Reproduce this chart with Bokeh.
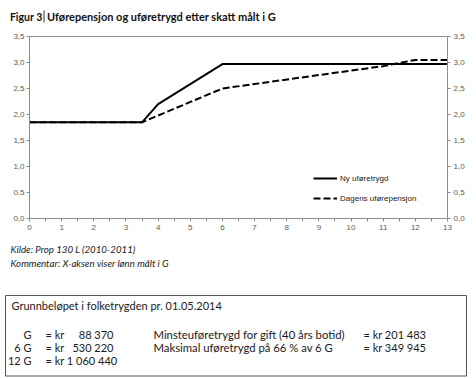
from bokeh.plotting import figure
from bokeh.models import (Range1d, LinearAxis, FixedTicker, CustomJSTickFormatter,
                          Span, Legend, LegendItem, ColumnDataSource)
from bokeh.layouts import column, row
from bokeh.core.properties import value
from bokeh.embed import file_html
from bokeh.resources import INLINE

# ---------------- data ----------------
x_ny = [0, 3.5, 4, 6, 13]
y_ny = [1.85, 1.85, 2.2, 2.97, 2.97]
x_dagens = [0, 3.5, 6, 11, 12, 13]
y_dagens = [1.85, 1.85, 2.5, 2.93, 3.05, 3.05]
series_names = ["Ny uføretrygd", "Dagens uførepensjon"]
y_ticks = [0, 0.5, 1.0, 1.5, 2.0, 2.5, 3.0, 3.5]
x_ticks = list(range(0, 14))

title_fig = "Figur 3"
title_main = "Uførepensjon og uføretrygd etter skatt målt i G"
notes = ["Kilde: Prop 130 L (2010-2011)", "Kommentar: X-aksen viser lønn målt i G"]
box_heading = "Grunnbeløpet i folketrygden pr. 01.05.2014"
g_labels = ["G", "6 G", "12 G"]
g_eq = ["= kr", "= kr", "= kr 1 060 440"]
g_amounts = ["88 370", "530 220", ""]
info_labels = ["Minsteuføretrygd for gift (40 års botid)", "Maksimal uføretrygd på 66 % av 6 G"]
info_amounts = ["= kr 201 483", "= kr 349 945"]

W = 476
TICK_COL = "#595959"
AXIS_COL = "#8c8c8c"

def blank(h):
    f = figure(width=W, height=h, x_range=Range1d(0, W), y_range=Range1d(h, 0),
               output_backend="svg", toolbar_location=None, min_border=0,
               min_border_left=0, min_border_right=0, min_border_top=0, min_border_bottom=0,
               x_axis_location=None, y_axis_location=None)
    f.grid.visible = False
    f.outline_line_color = None
    f.background_fill_color = None
    f.border_fill_color = None
    return f

# ---------------- header ----------------
HH = 30
head = blank(HH)
head.text(x=[42], y=[16], text=[title_fig], text_font=value("Lato"), text_font_style="bold",
          text_font_size="10.5px", text_baseline="middle", text_align="right",
          text_color="#111111")
head.segment(x0=[43.5], y0=[10], x1=[43.5], y1=[22], line_color="#333333", line_width=1)
head.text(x=[46.5], y=[16], text=[title_main], text_font=value("Lato"), text_font_style="bold",
          text_font_size="11px", text_baseline="middle", text_color="#111111")

# ---------------- chart ----------------
CH = 208
p = figure(width=W, height=CH, x_range=Range1d(0, 13), y_range=Range1d(0, 3.5),
           output_backend="svg", toolbar_location=None,
           min_border_left=29, min_border_right=29, min_border_top=6, min_border_bottom=20)
p.grid.visible = False
p.outline_line_color = None
p.background_fill_color = "white"
p.border_fill_color = None

fmt = CustomJSTickFormatter(code="return tick.toFixed(1).replace('.', ',');")

def style_y(ax, standoff):
    ax.ticker = FixedTicker(ticks=y_ticks)
    ax.formatter = fmt
    ax.axis_line_color = AXIS_COL
    ax.major_tick_line_color = AXIS_COL
    ax.major_tick_out = 3
    ax.major_tick_in = 0
    ax.minor_tick_out = 0
    ax.minor_tick_in = 0
    ax.major_label_text_font = "Liberation Sans"
    ax.major_label_text_font_size = "8px"
    ax.major_label_text_color = TICK_COL
    ax.major_label_standoff = standoff

style_y(p.yaxis[0], 2)
ry = LinearAxis()
style_y(ry, 3)
p.add_layout(ry, "right")

xa = p.xaxis[0]
xa.ticker = FixedTicker(ticks=x_ticks, minor_ticks=[i + 0.5 for i in range(13)])
xa.axis_line_color = AXIS_COL
xa.major_tick_line_color = AXIS_COL
xa.minor_tick_line_color = AXIS_COL
xa.major_tick_out = 3
xa.major_tick_in = 0
xa.minor_tick_out = 3
xa.minor_tick_in = 0
xa.major_label_text_font = "Liberation Sans"
xa.major_label_text_font_size = "8px"
xa.major_label_text_color = TICK_COL
xa.major_label_standoff = 3

p.add_layout(Span(location=3.5, dimension="width", line_color="#222222", line_width=1))

r_old = p.line(x_dagens, y_dagens, line_color="black", line_width=2, line_dash="7 3")
r_new = p.line(x_ny, y_ny, line_color="black", line_width=2)

legend = Legend(items=[LegendItem(label=series_names[0], renderers=[r_new]),
                       LegendItem(label=series_names[1], renderers=[r_old])],
                location=(284, 10), padding=0, margin=0, spacing=0,
                glyph_width=24, glyph_height=20, label_height=20, label_standoff=3,
                label_text_font="Liberation Sans", label_text_font_size="8px",
                label_text_color="#222222", background_fill_alpha=0, border_line_color=None)
p.add_layout(legend, "center")

# ---------------- footer ----------------
FH = 378 - HH - CH
foot = blank(FH)
note_src = ColumnDataSource(dict(x=[10, 10], y=[10, 24], t=notes))
foot.text(x="x", y="y", text="t", source=note_src, text_font=value("Lato"),
          text_font_style="italic", text_font_size="9.7px", text_baseline="middle",
          text_color="#222222")

foot.quad(left=[5], right=[466], top=[57], bottom=[137.5], fill_color=None,
          line_color="#555555", line_width=1)

BF = value("Lato")
BS = "11px"
BC = "#1a1a1a"
foot.text(x=[11], y=[67], text=[box_heading], text_font=BF, text_font_size=BS,
          text_baseline="middle", text_color=BC)
rows_y = [96, 109, 122]
foot.text(x=[31] * 3, y=rows_y, text=g_labels, text_font=BF, text_font_size=BS,
          text_baseline="middle", text_align="right", text_color=BC)
foot.text(x=[45] * 3, y=rows_y, text=g_eq, text_font=BF, text_font_size=BS,
          text_baseline="middle", text_color=BC)
foot.text(x=[113] * 3, y=rows_y, text=g_amounts, text_font=BF, text_font_size=BS,
          text_baseline="middle", text_align="right", text_color=BC)
foot.text(x=[153] * 2, y=rows_y[:2], text=info_labels, text_font=BF, text_font_size="11.3px",
          text_baseline="middle", text_color=BC)
foot.text(x=[363] * 2, y=rows_y[:2], text=info_amounts, text_font=BF, text_font_size=BS,
          text_baseline="middle", text_color=BC)

layout = column(row(head), row(p), row(foot), spacing=0)
open("out.html", "w").write(file_html(layout, INLINE))
